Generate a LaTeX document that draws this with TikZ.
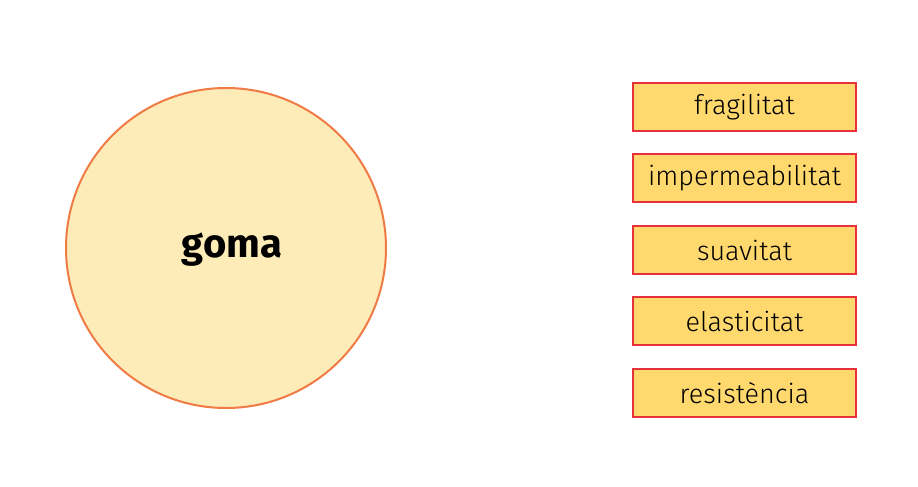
\documentclass[tikz,border=0pt]{standalone}
\usepackage{fontspec}
\setmainfont{Fira Sans}
\newfontfamily\lightfont{Fira Sans Light}
\definecolor{circfill}{HTML}{FDEBB8}
\definecolor{circline}{HTML}{F07B45}
\definecolor{boxfill}{HTML}{FFD96E}
\definecolor{boxline}{HTML}{E8313A}
\begin{document}
\begin{tikzpicture}[x=1pt,y=-1pt,
  prop/.style={draw=boxline,fill=boxfill,line width=1.4pt,minimum width=223pt,minimum height=48pt,inner sep=0pt,font=\lightfont\fontsize{27}{30}\selectfont},
  bigc/.style={circle,draw=circline,fill=circfill,line width=2pt,minimum size=320pt,inner sep=0pt}]
\useasboundingbox (0,0) rectangle (918,487);
\node[bigc] (goma) at (226,248) {};
\node[font=\bfseries\fontsize{40}{42}\selectfont] (gl) at (232,250) {goma};
\node[prop] (p1) at (744.5,107) {fragilitat};
\node[prop] (p2) at (744.5,178) {impermeabilitat};
\node[prop] (p3) at (744.5,250) {suavitat};
\node[prop] (p4) at (744.5,321) {elasticitat};
\node[prop] (p5) at (744.5,393) {resistència};
\end{tikzpicture}
\end{document}
